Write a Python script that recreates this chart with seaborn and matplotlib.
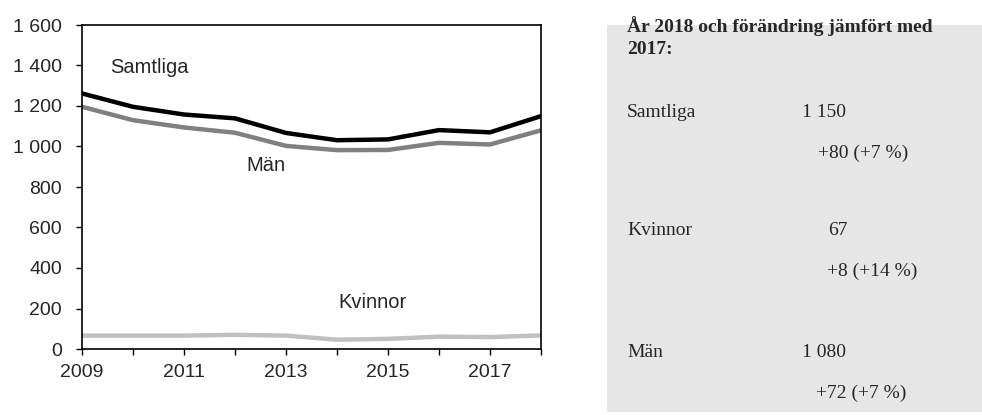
import matplotlib
matplotlib.use("Agg")
import matplotlib.pyplot as plt
import pandas as pd
import seaborn as sns

sns.set_theme(style="ticks")
plt.rcParams['font.family'] = ['Liberation Sans', 'DejaVu Sans']

# data
years = [2009, 2010, 2011, 2012, 2013, 2014, 2015, 2016, 2017, 2018]
samtliga = [1262, 1196, 1158, 1139, 1067, 1031, 1035, 1081, 1070, 1150]
man = [1196, 1130, 1094, 1068, 1003, 982, 983, 1018, 1010, 1080]
kvinnor = [66, 66, 66, 70, 66, 46, 50, 61, 59, 67]

series_names = ['Samtliga', 'Män', 'Kvinnor']
series_colors = {'Samtliga': '#000000', 'Män': '#808080', 'Kvinnor': '#c0c0c0'}

# side panel texts
panel_title = 'År 2018 och förändring jämfört med\n2017:'
panel_names = ['Samtliga', 'Kvinnor', 'Män']
panel_values = ['1 150', '67', '1 080']
panel_changes = ['+80 (+7 %)', '+8 (+14 %)', '+72 (+7 %)']

df = pd.DataFrame({
    'year': years * 3,
    'value': samtliga + man + kvinnor,
    'serie': ['Samtliga'] * 10 + ['Män'] * 10 + ['Kvinnor'] * 10,
})

W, H = 982, 415
fig = plt.figure(figsize=(W / 100, H / 100), dpi=100)
ax = fig.add_axes([82 / W, 1 - 349 / H, (541 - 82) / W, (349 - 25) / H])

sns.lineplot(data=df, x='year', y='value', hue='serie', hue_order=series_names,
             palette=series_colors, linewidth=3.2, legend=False, ax=ax)

ax.set_xlim(2009, 2018)
ax.set_ylim(0, 1600)
ax.set_xticks(years)
ax.set_xticklabels([str(y) if y % 2 == 1 else '' for y in years])
yt = list(range(0, 1601, 200))
ax.set_yticks(yt)
ax.set_yticklabels([f'{v:,}'.replace(',', ' ') for v in yt])
ax.tick_params(axis='both', labelsize=14, length=4.5, width=1, color='black',
               direction='out')
ax.tick_params(axis='y', pad=10)
ax.tick_params(axis='x', pad=6)
ax.set_xlabel('')
ax.set_ylabel('')
for s in ax.spines.values():
    s.set_color('black')
    s.set_linewidth(1.2)

# line labels
ax.text(2009.55, 1390, 'Samtliga', fontsize=14.5, va='center', ha='left')
ax.text(2012.6, 905, 'Män', fontsize=14.5, va='center', ha='center')
ax.text(2014.7, 230, 'Kvinnor', fontsize=14.5, va='center', ha='center')

# grey side panel
fig.patches.append(plt.Rectangle((607 / W, 1 - 412 / H), (W - 607) / W, (412 - 25) / H,
                                 transform=fig.transFigure, facecolor='#e6e6e6',
                                 edgecolor='none', zorder=0))

serif = ['Liberation Serif', 'DejaVu Serif']
fig.text(627 / W, 1 - 54 / H, panel_title, fontsize=14, fontweight='bold',
         family=serif, va='baseline', ha='left', linespacing=1.35)

row_y = [117, 235, 357]
value_x = [802, 828, 802]
change_x = [818, 827, 816]
for i in range(3):
    y = row_y[i]
    fig.text(627 / W, 1 - y / H, panel_names[i], fontsize=14, family=serif,
             va='baseline', ha='left')
    fig.text(value_x[i] / W, 1 - y / H, panel_values[i], fontsize=14, family=serif,
             va='baseline', ha='left')
    fig.text(change_x[i] / W, 1 - (y + 41) / H, panel_changes[i], fontsize=14,
             family=serif, va='baseline', ha='left')

fig.savefig('out.png', dpi=100)
